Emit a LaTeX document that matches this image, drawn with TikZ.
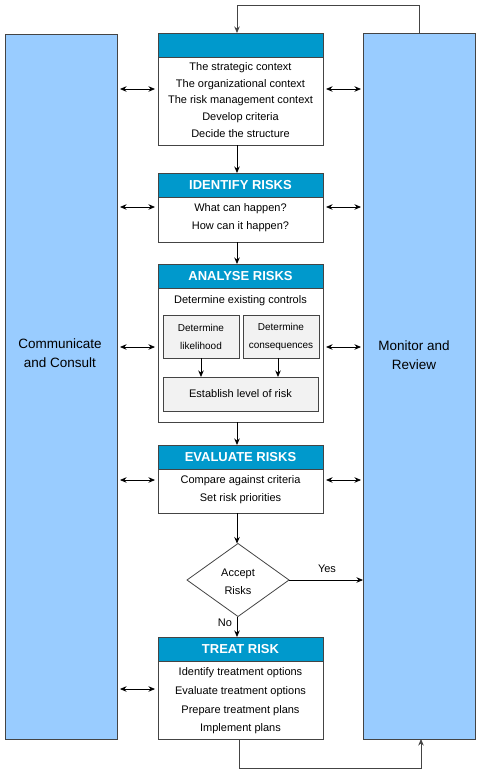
\documentclass[tikz,border=0pt]{standalone}
\usepackage{fontspec}
\setmainfont{Liberation Sans}
\usetikzlibrary{arrows.meta,shapes.geometric}
\definecolor{hdr}{HTML}{0099CC}
\definecolor{side}{HTML}{99CCFF}
\definecolor{edge}{HTML}{444444}
\definecolor{sub}{HTML}{F2F2F2}
\tikzset{
  x=1pt,y=-1pt,
  every node/.style={inner sep=0pt,outer sep=0pt},
  sidebox/.style={draw=edge,line width=0.8pt,fill=side,anchor=north west},
  stepbox/.style={draw=edge,line width=0.8pt,fill=white,anchor=north west,minimum width=165pt},
  headbox/.style={draw=edge,line width=0.8pt,fill=hdr,anchor=north west,minimum width=165pt,minimum height=24pt,
    text=white,font=\fontsize{13}{15}\selectfont\bfseries},
  subbox/.style={draw=edge,line width=0.8pt,fill=sub,anchor=north west,align=center},
  bodytext/.style={align=center,font=\fontsize{11}{18}\selectfont},
  sidetext/.style={align=center,font=\fontsize{13.5}{18.5}\selectfont},
  arr/.style={line width=0.8pt,-{Stealth[length=6.5pt,width=5.5pt]}},
  darr/.style={line width=0.8pt,{Stealth[length=6.5pt,width=5.5pt]}-{Stealth[length=6.5pt,width=5.5pt]}},
  lnk/.style={line width=0.8pt,draw=edge},
}
\begin{document}
\begin{tikzpicture}
\useasboundingbox (0,0) rectangle (480,772);
% side boxes
\node[sidebox,minimum width=112pt,minimum height=705pt] (com) at (5,34) {};
\node[sidebox,minimum width=112pt,minimum height=706pt] (mon) at (363,33) {};
\node[sidetext] (comt) at (60,353) {Communicate\\and Consult};
\node[sidetext] (mont) at (414,355) {Monitor and\\Review};
% spine coordinates
\coordinate (sx) at (237,0);
\coordinate (mx) at (419,0);
% context
\node[stepbox,minimum height=112pt] (ctx) at (158,33) {};
\node[headbox] (ctxh) at (158,33) {};
\node[bodytext,font=\fontsize{11}{16.6}\selectfont] (ctxt) at (240.5,100) {The strategic context\\The organizational context\\The risk management context\\Develop criteria\\Decide the structure};
% identify
\node[stepbox,minimum height=69pt] (idt) at (158,173) {};
\node[headbox] (idth) at (158,173) {IDENTIFY RISKS};
\node[bodytext] (idtt) at (240.5,218) {What can happen?\\How can it happen?};
% analyse
\node[stepbox,minimum height=158pt] (ana) at (158,264) {};
\node[headbox] (anah) at (158,264) {ANALYSE RISKS};
\node[bodytext] (anat) at (240.5,301) {Determine existing controls};
\node[subbox,minimum width=76pt,minimum height=43pt,font=\fontsize{10}{18}\selectfont] (lik) at (163,315) {Determine\\likelihood};
\node[subbox,minimum width=76pt,minimum height=43pt,font=\fontsize{10}{18}\selectfont] (con) at (243,315) {Determine\\consequences};
\node[subbox,minimum width=155pt,minimum height=34pt,font=\fontsize{11}{13}\selectfont] (est) at (163,377) {Establish level of risk};
\draw[arr] (lik.south -| 201,0) -- (est.north -| 201,0);
\draw[arr] (con.south -| 278,0) -- (est.north -| 278,0);
% evaluate
\node[stepbox,minimum height=68pt] (eva) at (158,445) {};
\node[headbox] (evah) at (158,445) {EVALUATE RISKS};
\node[bodytext] (evat) at (240.5,490) {Compare against criteria\\Set risk priorities};
% decision
\node[draw=edge,line width=0.8pt,fill=white,diamond,minimum width=102pt,minimum height=73pt] (dec) at (238,580) {};
\node[align=center,font=\fontsize{11}{18}\selectfont] (dect) at (238,582) {Accept\\Risks};
% treat
\node[stepbox,minimum height=102pt] (trt) at (158,637) {};
\node[headbox] (trth) at (158,637) {TREAT RISK};
\node[bodytext,font=\fontsize{11}{18.6}\selectfont] (trtt) at (240.5,701) {Identify treatment options\\Evaluate treatment options\\Prepare treatment plans\\Implement plans};
% main flow
\draw[arr] (ctx.south -| sx) -- (idth.north -| sx);
\draw[arr] (idt.south -| sx) -- (anah.north -| sx);
\draw[arr] (ana.south -| sx) -- (evah.north -| sx);
\draw[arr] (eva.south -| sx) -- (dec.north -| sx);
\draw[arr] (dec.south -| sx) -- (trth.north -| sx);
\node[font=\fontsize{11}{13}\selectfont] (no) at (225,623) {No};
\draw[arr] (dec.east) -- (dec.east -| mon.west);
\node[font=\fontsize{11}{13}\selectfont] (yes) at (327,569) {Yes};
% loops
\draw[lnk,arr] (mon.north -| mx) -- (mx |- 0,5) -- (sx |- 0,5) -- (ctxh.north -| sx);
\draw[lnk,arr] (trt.south -| 239,0) -- (239,768) -- (421,768) -- (mon.south -| 421,0);
% side arrows
\foreach \n/\y in {ctx/89,idt/207,ana/347,eva/480,trt/689}{
  \draw[darr] ([xshift=3pt]com.east |- 0,\y) -- ([xshift=-3pt]\n.west |- 0,\y);
}
\foreach \n/\y in {ctx/89,idt/207,ana/347,eva/480}{
  \draw[darr] ([xshift=3pt]\n.east |- 0,\y) -- ([xshift=-2pt]mon.west |- 0,\y);
}
\end{tikzpicture}
\end{document}
